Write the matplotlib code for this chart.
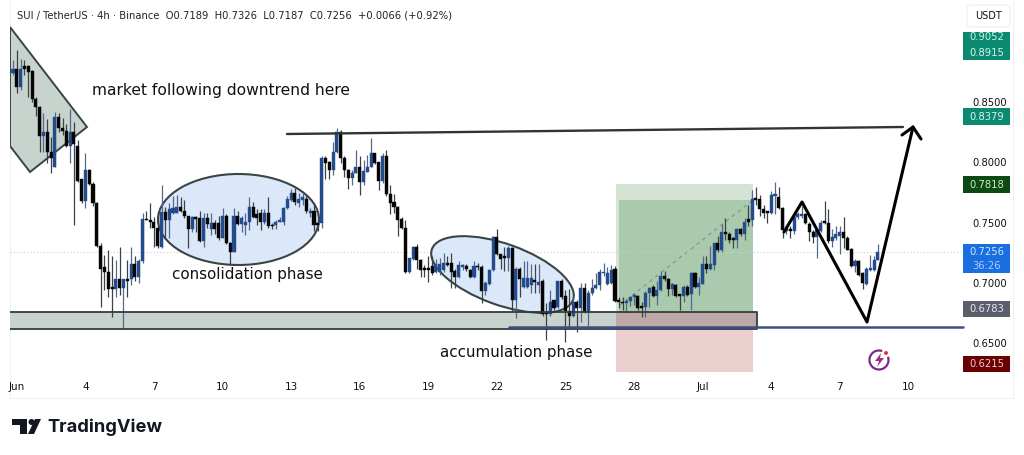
import matplotlib
matplotlib.use("Agg")
import matplotlib.pyplot as plt
import numpy as np
from matplotlib.patches import Rectangle, Polygon, Ellipse, Circle, Arc, FancyBboxPatch
from matplotlib.transforms import Affine2D

# SUI/USDT 4h candles
opens = [
    .874, .878, .863, .880, .880, .876, .853, .846, .822, .825,
    .809, .796, .838, .829, .826, .814, .825, .814, .786, .768,
    .794, .782, .766, .731, .713, .709, .696, .695, .703, .696,
    .703, .703, .716, .705, .718, .753, .752, .751, .746, .730,
    .759, .752, .758, .758, .763, .760, .756, .745, .755, .754,
    .735, .754, .745, .750, .750, .737, .756, .733, .726, .756,
    .749, .748, .751, .763, .757, .758, .751, .758, .748, .748,
    .751, .751, .762, .769, .775, .766, .769, .770, .758, .760,
    .750, .750, .804, .800, .794, .809, .825, .804, .794, .787,
    .791, .796, .784, .792, .796, .808, .800, .785, .805, .774,
    .767, .763, .753, .746, .709, .720, .730, .719, .712, .712,
    .714, .709, .709, .711, .716, .717, .710, .705, .713, .714,
    .711, .705, .714, .713, .693, .699, .711, .738, .724, .722,
    .721, .729, .686, .712, .697, .697, .698, .702, .698, .702,
    .675, .674, .686, .680, .702, .689, .677, .673, .684, .679,
    .696, .676, .692, .696, .698, .708, .699, .700, .712, .685,
    .684, .683, .685, .688, .689, .681, .680, .692, .697, .689,
    .694, .706, .703, .695, .698, .690, .689, .697, .691, .708,
    .697, .699, .716, .712, .715, .733, .727, .742, .741, .737,
    .736, .745, .741, .753, .752, .770, .770, .761, .759, .758,
    .772, .771, .762, .743, .745, .743, .755, .756, .757, .749,
    .742, .738, .743, .751, .750, .735, .737, .739, .742, .737,
    .728, .714, .718, .708, .699, .711, .711, .7189,
]
highs = [
    .885, .893, .886, .885, .881, .877, .854, .847, .841, .836,
    .821, .842, .841, .837, .832, .844, .834, .819, .786, .808,
    .795, .784, .767, .733, .723, .727, .722, .719, .730, .703,
    .719, .730, .722, .720, .758, .760, .766, .755, .759, .781,
    .763, .766, .772, .773, .771, .769, .756, .756, .756, .760,
    .758, .758, .758, .752, .756, .762, .757, .734, .762, .760,
    .756, .758, .771, .767, .761, .761, .761, .771, .750, .752,
    .755, .763, .772, .778, .779, .775, .775, .773, .762, .766,
    .752, .805, .805, .801, .817, .829, .827, .805, .795, .794,
    .810, .805, .802, .806, .820, .808, .800, .808, .810, .781,
    .774, .764, .755, .752, .721, .731, .732, .720, .715, .722,
    .722, .720, .721, .725, .722, .725, .712, .718, .716, .716,
    .712, .718, .717, .715, .702, .712, .739, .745, .724, .730,
    .731, .730, .713, .713, .718, .718, .716, .716, .716, .703,
    .683, .694, .686, .702, .703, .694, .695, .688, .686, .700,
    .700, .694, .703, .708, .712, .717, .713, .715, .714, .688,
    .688, .687, .689, .692, .690, .684, .693, .697, .698, .702,
    .710, .710, .704, .700, .699, .691, .698, .698, .709, .709,
    .705, .722, .722, .731, .733, .739, .749, .754, .742, .738,
    .746, .746, .754, .765, .777, .780, .773, .765, .760, .776,
    .784, .780, .763, .748, .747, .757, .759, .764, .758, .751,
    .744, .746, .752, .768, .761, .745, .747, .747, .755, .739,
    .729, .720, .719, .709, .713, .723, .722, .7326,
]
lows = [
    .873, .858, .860, .873, .854, .850, .839, .809, .809, .800,
    .791, .796, .825, .823, .813, .800, .748, .784, .766, .762,
    .781, .764, .730, .680, .694, .688, .672, .688, .690, .662,
    .688, .698, .702, .700, .717, .752, .746, .730, .729, .729,
    .737, .737, .757, .758, .759, .754, .729, .742, .742, .734,
    .730, .746, .740, .741, .736, .737, .732, .715, .726, .748,
    .742, .740, .744, .754, .748, .744, .749, .746, .745, .745,
    .751, .748, .761, .768, .765, .763, .765, .758, .755, .743,
    .743, .746, .786, .786, .790, .808, .800, .788, .778, .781,
    .791, .773, .781, .792, .796, .799, .777, .783, .772, .757,
    .758, .739, .745, .708, .708, .719, .712, .705, .705, .701,
    .707, .708, .707, .709, .714, .696, .696, .704, .711, .710,
    .704, .704, .711, .683, .690, .698, .710, .723, .712, .710,
    .710, .677, .671, .688, .696, .696, .692, .692, .692, .673,
    .653, .673, .678, .679, .687, .651, .662, .672, .659, .668,
    .675, .664, .690, .695, .694, .706, .698, .699, .684, .679,
    .678, .676, .681, .682, .678, .672, .672, .680, .688, .682,
    .693, .702, .689, .690, .688, .678, .684, .689, .678, .696,
    .690, .699, .708, .711, .711, .726, .726, .736, .733, .729,
    .729, .739, .736, .747, .747, .765, .756, .754, .750, .757,
    .757, .761, .737, .741, .737, .741, .753, .754, .749, .735,
    .733, .721, .742, .749, .733, .730, .736, .724, .729, .727,
    .713, .709, .706, .695, .698, .710, .710, .7187,
]
closes = [
    .878, .863, .878, .878, .875, .853, .846, .822, .825, .809,
    .804, .838, .829, .826, .814, .825, .815, .785, .768, .794,
    .782, .766, .731, .712, .709, .695, .695, .703, .696, .703,
    .702, .716, .705, .718, .753, .752, .751, .746, .731, .759,
    .752, .761, .762, .763, .760, .756, .745, .755, .753, .735,
    .754, .749, .750, .745, .737, .756, .733, .726, .756, .749,
    .754, .751, .763, .755, .754, .751, .758, .747, .747, .751,
    .751, .762, .770, .775, .767, .770, .771, .760, .760, .748,
    .748, .804, .800, .794, .809, .825, .804, .794, .787, .791,
    .796, .784, .793, .796, .808, .800, .785, .805, .774, .766,
    .763, .752, .746, .709, .721, .730, .719, .711, .711, .711,
    .708, .716, .716, .717, .715, .709, .705, .715, .715, .712,
    .705, .714, .713, .693, .700, .711, .738, .724, .720, .721,
    .729, .686, .712, .703, .704, .704, .704, .701, .701, .674,
    .674, .684, .679, .702, .688, .677, .673, .684, .679, .696,
    .676, .692, .696, .698, .709, .709, .708, .711, .685, .684,
    .683, .685, .688, .690, .679, .679, .692, .696, .689, .694,
    .706, .703, .695, .699, .689, .689, .697, .690, .708, .697,
    .700, .716, .712, .716, .733, .727, .742, .741, .736, .736,
    .745, .741, .751, .751, .770, .769, .761, .758, .758, .773,
    .774, .762, .744, .746, .743, .755, .757, .757, .750, .742,
    .738, .744, .750, .750, .735, .738, .741, .742, .737, .727,
    .714, .718, .707, .700, .712, .712, .719, .7256,
]

date_labels = ["Jun", "4", "7", "10", "13", "16", "19", "22", "25", "28", "Jul", "4", "7", "10"]
date_bars = [1, 19, 37, 55, 73, 91, 109, 127, 145, 163, 181, 199, 217, 235]
price_ticks = [0.65, 0.70, 0.75, 0.80, 0.85]

W, H = 1024, 455
UP = "#244c8c"
DOWN = "#050505"
INK = "#3a4444"

fig = plt.figure(figsize=(W / 100, H / 100), dpi=100, facecolor="white")
ax = fig.add_axes([10 / W, 1 - 374 / H, 955 / W, 372 / H])
ax.set_xlim((10 - 13) / 3.81, (965 - 13) / 3.81)
ax.set_ylim(0.7 + (283 - 374) / 1205, 0.7 + (283 - 2) / 1205)

# screen coordinates (y down) for the hand drawn shapes
px = Affine2D().scale(1, -1).translate(0, H)


def shape(patch, z):
    patch.set_transform(px)
    patch.set_zorder(z)
    ax.add_patch(patch)
    return patch


def line(xs, ys, color="black", lw=2.0, z=6, **kw):
    ax.plot(xs, ys, color=color, lw=lw, zorder=z, transform=px,
            solid_capstyle="round", **kw)


# long position box
shape(Rectangle((616, 311), 137, 61, fc="#ebcfcf", ec="none"), 1)
shape(Rectangle((616, 184), 137, 127, fc="#d4e3d4", ec="none"), 1)
shape(Rectangle((619, 200), 134, 111, fc="#a9caad", ec="none"), 1.1)
line([620, 753], [305, 200], color="#7f9f87", lw=0.9, z=1.2, linestyle=(0, (3, 3)))

# support band
shape(Rectangle((10, 312), 606, 17, fc="#c8d3ce", ec="none"), 1.3)
shape(Rectangle((616, 312), 141, 17, fc="#bfa9a8", ec="none"), 1.3)
line([10, 757, 757, 10], [312, 312, 329, 329], color="#333b3b", lw=1.3, z=4)
line([509, 963], [326.5, 326.5], color="#3d4f86", lw=1.8, z=5)

# downtrend wedge and the two phase ellipses
shape(Polygon([(10, 27), (87, 127), (30, 172), (10, 146)], fc="#c8d3ce", ec=INK, lw=1.4), 1.5)
shape(Ellipse((238.5, 219.5), 161, 91, fc="#dbe8f9", ec=INK, lw=1.5), 2)
shape(Ellipse((502.5, 274.5), 150, 61, angle=19.8, fc="#dbe8f9", ec=INK, lw=1.5), 2)

# last price line
ax.axhline(closes[-1], color="#c9ced6", lw=0.8, linestyle=(0, (1, 2)), zorder=1.4)

# candles
bars = np.arange(len(closes))
o, h, l, c = map(np.array, (opens, highs, lows, closes))
colors = [UP if up else DOWN for up in c >= o]
ax.vlines(bars, l, h, color=[("#3d4146" if x == DOWN else "#55688c") for x in colors], lw=0.9, zorder=3)
ax.bar(bars, np.maximum(np.abs(c - o), 0.0015), bottom=np.minimum(o, c), width=0.8,
       color=colors, edgecolor=colors, linewidth=0.3, zorder=3.5)

# resistance line, projected path
line([287, 903], [134, 127], color="#2f3535", lw=1.7)
line([784, 802, 867, 913], [232, 202, 322, 127], lw=2.2)
line([902, 913, 921], [135, 127, 139], lw=2.2)

ax.set_xticks(date_bars, date_labels)
ax.yaxis.tick_right()
ax.set_yticks(price_ticks, [f"{p:.4f}" for p in price_ticks])
ax.tick_params(axis="x", length=0, pad=6, labelsize=7.5, labelcolor="#111111")
ax.tick_params(axis="y", length=0, pad=5, labelsize=7.2, labelcolor="#111111")
for s in ax.spines.values():
    s.set_visible(False)
ax.patch.set_alpha(0)

# annotations
for txt, x, y, size in [("market following downtrend here", 92, 90, 11.2),
                        ("consolidation phase", 172, 274, 10.9),
                        ("accumulation phase", 440, 353, 10.9)]:
    ax.text(x, y, txt, transform=px, fontsize=size, color="#111111", va="center", ha="left", zorder=7)

# replay icon
shape(Arc((879, 360), 19, 19, theta1=-20, theta2=290, ec="#7a2a86", lw=1.6), 7)
shape(Polygon([(881, 353), (875, 361), (879, 361), (877, 367), (884, 358), (880, 358)],
              fc="#a0307f", ec="none"), 7)
shape(Circle((886, 353), 2, fc="#d93a3a", ec="none"), 7.1)

# price scale badges
def badge(text, color, top, bottom, fg="#d8f5ea"):
    fig.add_artist(Rectangle((963, top), 47, bottom - top, fc=color, ec="none", transform=px))
    fig.text(987, (top + bottom) / 2, text, transform=px, color=fg, fontsize=7.2,
             ha="center", va="center", zorder=5)


fig.add_artist(Rectangle((963, 32), 47, 28, fc="#0c8a70", ec="none", transform=px))
fig.text(987, 36.5, "0.9052", transform=px, color="#c9f2e2", fontsize=7.2, ha="center", va="center", zorder=5)
fig.text(987, 53, "0.8915", transform=px, color="#d8f5ea", fontsize=7.2, ha="center", va="center", zorder=5)
badge("0.8379", "#0c8a70", 108, 125)
badge("0.7818", "#0b4a12", 176, 193, "#cfe8cf")
fig.add_artist(Rectangle((963, 244), 47, 29, fc="#1a6fe0", ec="none", transform=px))
fig.text(987, 252, "0.7256", transform=px, color="#cfe4ff", fontsize=7.2, ha="center", va="center", zorder=5)
fig.text(987, 266, "36:26", transform=px, color="#a9cdfb", fontsize=7.2, ha="center", va="center", zorder=5)
badge("0.6783", "#5b5f6b", 301, 317, "#e4e6ea")
badge("0.6215", "#6a0000", 356, 372, "#f0caca")

# currency button
fig.add_artist(FancyBboxPatch((969, 7), 39, 18, boxstyle="round,pad=2,rounding_size=4",
                              fc="white", ec="#f0f0f0", lw=0.8, transform=px))
fig.text(989, 16, "USDT", transform=px, color="#111111", fontsize=7, ha="center", va="center", zorder=5)

# header
fig.text(17, 15, "SUI / TetherUS · 4h · Binance  O0.7189  H0.7326  L0.7187  C0.7256  +0.0066 (+0.92%)",
         transform=px, color="#1c2430", fontsize=7.2, ha="left", va="center", zorder=5)

# chart frame, kept behind the axes so it does not cut the first date label
for xs, ys in [([10, 10], [2, 398]), ([10, 1013], [398, 398]), ([1013, 1013], [2, 398])]:
    fig.add_artist(plt.Line2D(xs, ys, color="#f0f1f3", lw=0.8, transform=px, zorder=-1))

# TradingView mark
fig.add_artist(Polygon([(12, 419), (27, 419), (27, 434), (20, 434), (20, 425), (12, 425)],
                       fc="#131722", ec="none", transform=px))
fig.add_artist(Circle((31.5, 422), 3.0, fc="#131722", ec="none", transform=px))
fig.add_artist(Polygon([(41, 419), (34, 434), (28, 434), (35, 419)],
                       fc="#131722", ec="none", transform=px))
fig.text(47, 427.5, "TradingView", transform=px, color="#131722", fontsize=13.2,
         family="Inter", weight="bold", ha="left", va="center", zorder=5)

fig.savefig("out.png", dpi=100)
